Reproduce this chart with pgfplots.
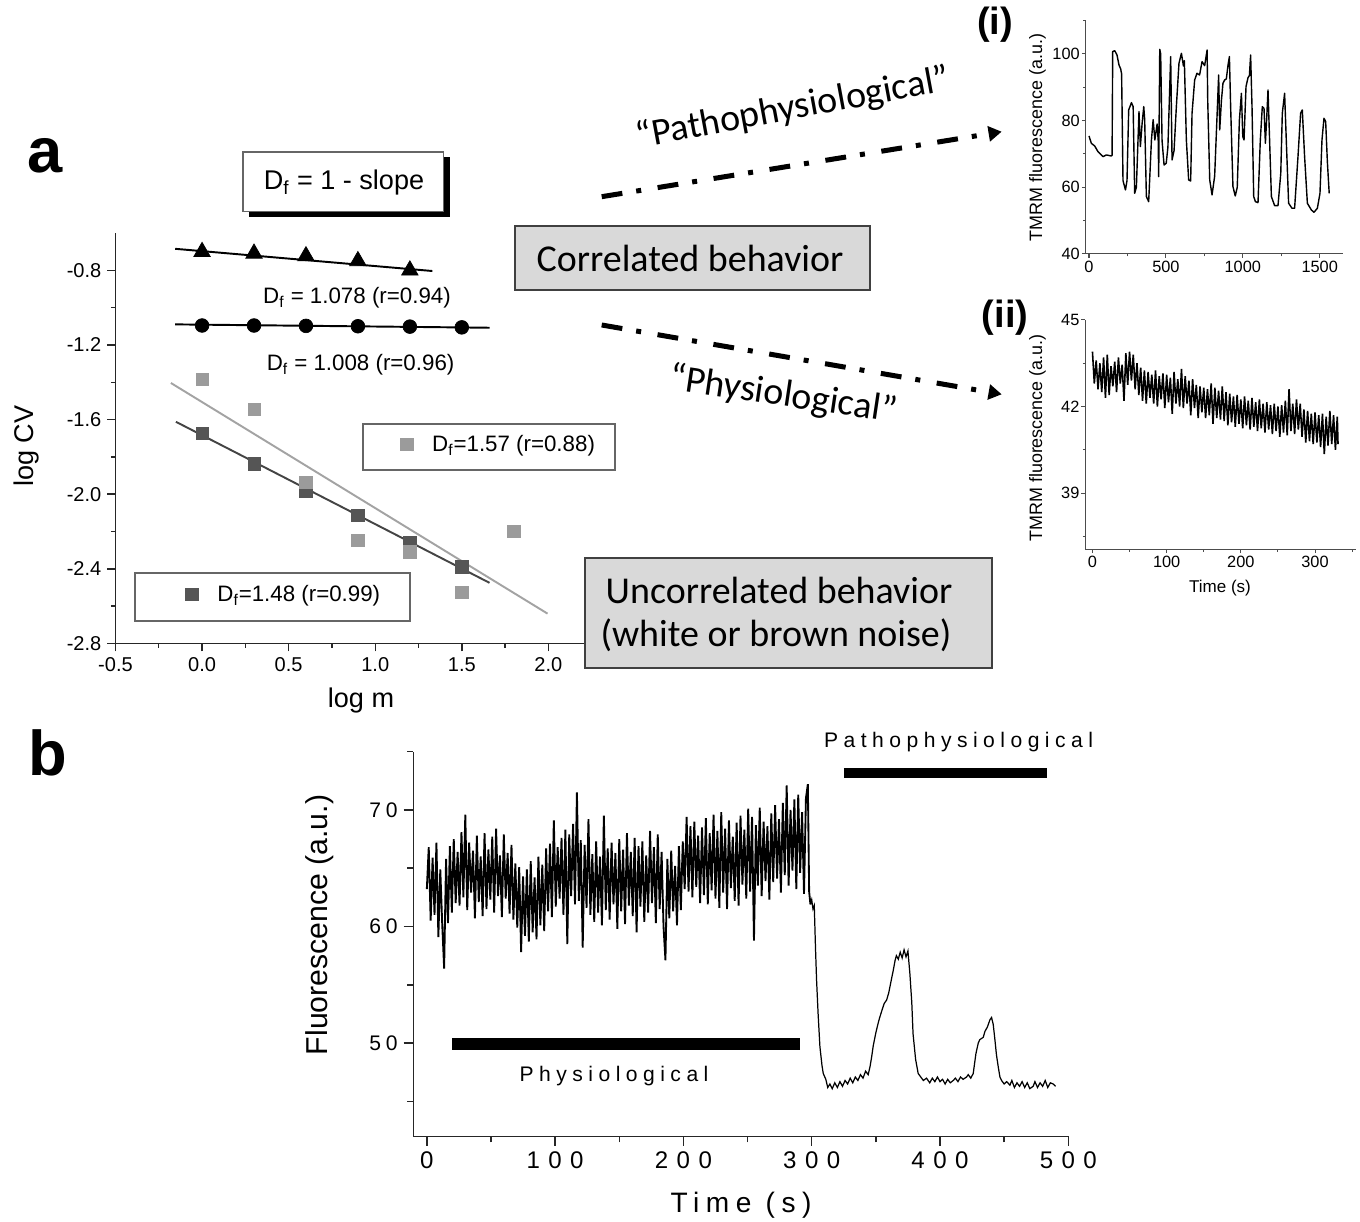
\documentclass[border=0pt]{standalone}
\usepackage{pgfplots}
\pgfplotsset{compat=1.18}
\usepackage{fontspec}
\setmainfont{Liberation Sans}
\newfontfamily\carl{Carlito}
\newfontfamily\spLab{Liberation Sans}[LetterSpace=26]
\newfontfamily\spX{Liberation Sans}[LetterSpace=35]
\newfontfamily\spY{Liberation Sans}[LetterSpace=22]
\newfontfamily\spT{Liberation Sans}[LetterSpace=23]
\usetikzlibrary{arrows.meta}
\definecolor{sqdark}{HTML}{555555}
\definecolor{sqlight}{HTML}{9B9B9B}
\definecolor{lndark}{HTML}{444444}
\definecolor{lnlight}{HTML}{A3A3A3}
\definecolor{boxgray}{HTML}{D9D9D9}
\newcommand{\fs}[1]{\fontsize{#1}{#1}\selectfont}

\pgfplotsset{
  orig/.style={scale only axis, anchor=south west,
    axis x line*=bottom, axis y line*=left,
    axis line style={-, line width=0.8pt, black!85},
    tick align=outside, tick style={line width=0.8pt, black!85},
    /pgf/number format/assume math mode=true,
    /pgf/number format/1000 sep={},
    clip=false},
}

\begin{document}
\begin{tikzpicture}

% ---------- panel a: log CV vs log m ----------
\begin{axis}[orig, at={(2.31cm,-12.872cm)}, width=9.526cm, height=8.212cm,
  xmin=-0.5, xmax=2.25, ymin=-2.8, ymax=-0.6,
  xtick={-0.5,0,0.5,1,1.5,2}, ytick={-2.8,-2.4,-2,-1.6,-1.2,-0.8},
  minor xtick={-0.25,0.25,0.75,1.25,1.75}, minor ytick={-2.6,-2.2,-1.8,-1.4,-1.0},
  major tick length=0.16cm, minor tick length=0.09cm,
  ticklabel style={font=\fs{11.4pt}},
  xticklabel style={/pgf/number format/.cd, fixed, fixed zerofill, precision=1},
  yticklabel style={/pgf/number format/.cd, fixed, fixed zerofill, precision=1},
  legend style={at={(axis description cs:0.147,0.1193)}, anchor=west,
    draw=none, fill=none, font=\fs{12.7pt}, inner sep=0pt, column sep=9pt},
]
\addplot[only marks, mark=square*, mark size=3.5pt, color=sqdark]
  coordinates {(0,-1.675)(0.3,-1.837)(0.6,-1.984)(0.9,-2.114)(1.2,-2.261)(1.5,-2.389)};
\addlegendentry{D\textsubscript{f}=1.48 (r=0.99)}
\addplot[only marks, mark=square*, mark size=3.5pt, color=sqlight, forget plot]
  coordinates {(0,-1.385)(0.3,-1.545)(0.6,-1.937)(0.9,-2.248)(1.2,-2.309)(1.5,-2.525)(1.8,-2.198)};
\addplot[only marks, mark=*, mark size=3.9pt, black, forget plot]
  coordinates {(0,-1.096)(0.3,-1.096)(0.6,-1.098)(0.9,-1.100)(1.2,-1.102)(1.5,-1.106)};
\addplot[only marks, mark=triangle*, mark size=5.4pt, black, forget plot]
  coordinates {(0,-0.701)(0.3,-0.710)(0.6,-0.724)(0.9,-0.750)(1.2,-0.800)};
\addplot[lndark, line width=1.1pt, forget plot] coordinates {(-0.151,-1.612)(1.66,-2.475)};
\addplot[lnlight, line width=1.1pt, forget plot] coordinates {(-0.18,-1.404)(1.995,-2.640)};
\addplot[black, line width=1.1pt, forget plot] coordinates {(-0.155,-1.090)(1.66,-1.108)};
\addplot[black, line width=1.1pt, forget plot] coordinates {(-0.155,-0.685)(1.33,-0.804)};
\end{axis}

% second legend of panel a
\begin{axis}[scale only axis, anchor=south west, at={(2.31cm,-12.872cm)}, width=9.526cm, height=8.212cm,
  hide axis, xmin=0, xmax=1, ymin=0, ymax=1,
  legend style={at={(axis description cs:0.598,0.4847)}, anchor=west,
    draw=none, fill=none, font=\fs{12.7pt}, inner sep=0pt, column sep=9pt}]
\addlegendimage{only marks, mark=square*, mark size=3.5pt, color=sqlight}
\addlegendentry{D\textsubscript{f}=1.57 (r=0.88)}
\end{axis}

% ---------- inset (i) ----------
\begin{axis}[orig, at={(21.72cm,-5.08cm)}, width=5.14cm, height=4.667cm,
  xmin=-21, xmax=1650, ymin=40, ymax=110,
  xtick={0,500,1000,1500}, minor xtick={250,750,1250},
  ytick={40,60,80,100}, minor ytick={50,70,90,110},
  major tick length=0.08cm, minor tick length=0.05cm,
  axis line style={line width=0.6pt, black!70}, tick style={line width=0.6pt, black!70},
  ticklabel style={font=\fs{9.3pt}},
  xticklabel style={inner ysep=1.5pt}, yticklabel style={inner xsep=1pt},
]
\addplot[black, line width=0.8pt, line join=round] coordinates {
(0,75.4)(15,73.2)(37,72.4)(58,70.7)(91,69.2)(113,69.7)(145,69.4)(150,69.6)(154,100.7)(167,101)
(182,99.7)(195,96.7)(206,95.5)(212,94)(221,62)(237,59.2)(247,62)(258,83.2)(276,85.4)(287,84.2)
(297,58.2)(308,60)(325,82.7)(334,72.2)(345,79)(356,84.2)(362,80.3)(373,57.2)(388,55.7)(406,74.2)
(417,80.3)(428,74.2)(443,79)(450,74)(453,63.2)(460,101.4)(466,100)(475,74)(488,66.7)(502,67.2)
(513,72)(531,99.2)(540,68.2)(553,71)(568,84.2)(585,97.2)(601,100.2)(614,96.4)(620,98)(633,74.2)
(648,62.2)(661,61.9)(670,82.2)(687,92.2)(702,94.2)(719,93.7)(735,97.7)(752,96.5)(768,101.2)(772,86)
(785,62.2)(800,57.7)(817,63.3)(835,84.2)(843,93.7)(850,77.2)(861,86)(871,91.2)(882,92.2)(893,92.5)
(904,96.7)(913,99.2)(921,84.2)(936,60.2)(951,57.4)(964,60)(978,80.2)(991,88.2)(1000,75.2)(1008,74.2)
(1021,90.2)(1034,92.9)(1043,93.5)(1051,99.7)(1060,84.2)(1071,57.2)(1082,55.7)(1099,55.4)(1114,74.2)(1127,84.2)
(1138,83.7)(1147,73.2)(1156,81.2)(1164,89.2)(1175,73.2)(1186,57.2)(1207,54.5)(1229,54.5)(1247,64.2)(1257,82.2)
(1272,88.2)(1283,74)(1298,55.2)(1320,53.7)(1337,53.7)(1359,69.2)(1376,82.2)(1387,83.2)(1402,69.2)(1420,55.2)
(1446,53.2)(1463,52.5)(1485,53.7)(1502,58.2)(1515,74.2)(1528,80.7)(1539,79.7)(1550,67.7)(1562,58.2)};
\end{axis}

% ---------- inset (ii) ----------
\begin{axis}[orig, at={(21.714cm,-10.986cm)}, width=5.408cm, height=4.586cm,
  xmin=-9.4, xmax=355, ymin=37.06, ymax=45,
  xtick={0,100,200,300}, minor xtick={50,150,250,350},
  ytick={39,42,45}, minor ytick={37.5,40.5,43.5},
  major tick length=0.08cm, minor tick length=0.05cm,
  axis line style={line width=0.6pt, black!70}, tick style={line width=0.6pt, black!70},
  ticklabel style={font=\fs{9.3pt}},
  xticklabel style={inner ysep=1.5pt}, yticklabel style={inner xsep=1pt},
]
\addplot[black, line width=0.9pt] coordinates {
(0,43.9)(2.5,42.8)(5,43.6)(7.5,42.6)(10,43.5)(12.5,42.5)(15,43.7)(17.5,42.3)(20,43.8)(22.5,42.4)
(25,43.4)(27.5,42.7)(30,43.55)(32.5,42.5)(35,43.7)(37.5,42.8)(40,43.45)(42.5,42.2)(45,43.85)(47.5,42.75)
(50,43.9)(52.5,42.9)(55,43.8)(57.5,42.6)(60,43.5)(62.5,42.4)(65,43.35)(67.5,42.2)(70,43.25)(72.5,42.1)
(75,43.2)(77.5,42.3)(80,43.1)(82.5,42.1)(85,43.25)(87.5,42.0)(90,43.05)(92.5,42.25)(95,43.15)(97.5,41.95)
(100,43.1)(102.5,42.15)(105,43.0)(107.5,41.75)(110,43.2)(112.5,42.1)(115,42.95)(117.5,42.0)(120,43.3)(122.5,41.95)
(125,43.05)(127.5,42.1)(130,42.9)(132.5,41.7)(135,42.95)(137.5,41.95)(140,42.75)(142.5,41.6)(145,42.7)(147.5,41.8)
(150,42.65)(152.5,41.6)(155,42.6)(157.5,41.7)(160,42.8)(162.5,41.4)(165,42.65)(167.5,41.6)(170,42.55)(172.5,41.55)
(175,42.7)(177.5,41.5)(180,42.5)(182.5,41.35)(185,42.45)(187.5,41.45)(190,42.35)(192.5,41.3)(195,42.4)(197.5,41.4)
(200,42.25)(202.5,41.25)(205,42.35)(207.5,41.35)(210,42.2)(212.5,41.2)(215,42.3)(217.5,41.3)(220,42.15)(222.5,41.15)
(225,42.25)(227.5,41.25)(230,42.1)(232.5,41.1)(235,42.15)(237.5,41.2)(240,42.05)(242.5,41.05)(245,42.1)(247.5,41.15)
(250,42.0)(252.5,40.95)(255,42.05)(257.5,41.1)(260,42.2)(262.5,41.0)(265,42.6)(267.5,41.15)(270,42.1)(272.5,41.05)
(275,42.25)(277.5,41.2)(280,42.1)(282.5,40.95)(285,41.9)(287.5,40.75)(290,41.85)(292.5,40.8)(295,41.75)(297.5,40.7)
(300,41.8)(302.5,40.75)(305,41.7)(307.5,40.6)(310,41.75)(312.5,40.35)(315,41.65)(317.5,40.65)(320,41.85)(322.5,40.7)
(325,41.7)(327.5,40.5)(330,41.65)(331,40.7)};
\end{axis}

% ---------- panel b ----------
\begin{axis}[orig, at={(8.266cm,-22.734cm)}, width=13.104cm, height=7.7cm,
  xmin=-10.6, xmax=500, ymin=42, ymax=75,
  xtick={0,100,200,300,400,500}, minor xtick={50,150,250,350,450},
  ytick={50,60,70}, minor ytick={45,55,65,75},
  major tick length=0.19cm, minor tick length=0.12cm,
  xticklabel style={font=\spX\fs{13.7pt}}, yticklabel style={font=\spY\fs{12pt}},
]
% noisy physiological stretch
\addplot[black, line width=1.05pt] coordinates {
(0,63.2)(1.5,66.8)(3,60.5)(4.5,65.9)(6,61.0)(7.5,67.2)(9,59.1)(10.5,64.9)(12,60.2)(13.5,56.4)
(15,65.8)(16.5,60.3)(18,66.9)(19.5,61.2)(21,67.5)(22.5,62.0)(24,66.4)(25.5,61.8)(27,68.1)(28.5,62.5)
(30,69.6)(31.5,61.4)(33,67.2)(34.5,62.9)(36,66.5)(37.5,60.7)(39,67.8)(40.5,62.1)(42,66.0)(43.5,60.9)
(45,68.0)(46.5,61.5)(48,66.6)(49.5,62.3)(51,67.7)(52.5,61.2)(54,68.4)(55.5,62.6)(57,66.1)(58.5,60.8)
(60,67.9)(61.5,62.4)(63,66.3)(64.5,61.1)(66,67.0)(67.5,60.6)(69,65.4)(70.5,59.9)(72,65.1)(73.5,57.8)
(75,64.3)(76.5,59.2)(78,64.9)(79.5,58.7)(81,65.6)(82.5,59.5)(84,64.2)(85.5,58.9)(87,66.0)(88.5,60.1)
(90,65.3)(91.5,59.6)(93,66.7)(94.5,61.3)(96,67.1)(97.5,60.8)(99,69.1)(100.5,61.7)(102,66.8)(103.5,62.4)
(105,67.6)(106.5,61.0)(108,68.3)(109.5,58.5)(111,67.9)(112.5,62.6)(114,68.8)(115.5,61.9)(117,71.5)(118.5,62.2)
(120,67.4)(121.5,58.2)(123,67.0)(124.5,61.6)(126,69.2)(127.5,61.0)(129,66.2)(130.5,60.4)(132,67.3)(133.5,61.2)
(135,66.0)(136.5,60.1)(138,69.5)(139.5,61.4)(141,66.7)(142.5,60.6)(144,67.2)(145.5,61.9)(147,66.3)(148.5,59.8)
(150,67.5)(151.5,61.3)(153,66.6)(154.5,60.2)(156,68.0)(157.5,61.8)(159,66.4)(160.5,60.9)(162,67.6)(163.5,59.5)
(165,66.9)(166.5,61.7)(168,67.3)(169.5,60.4)(171,66.1)(172.5,61.2)(174,68.2)(175.5,62.0)(177,66.8)(178.5,60.3)
(180,67.9)(181.5,61.5)(183,66.4)(184.5,60.0)(186,57.1)(187.5,65.8)(189,60.7)(190.5,66.5)(192,61.3)(193.5,65.2)
(195,60.1)(196.5,66.9)(198,61.4)(199.5,67.3)(201,63.2)(202.5,69.4)(204,63.0)(205.5,68.6)(207,62.5)(208.5,69.0)
(210,63.4)(211.5,67.8)(213,62.0)(214.5,68.5)(216,62.7)(217.5,69.3)(219,61.9)(220.5,68.0)(222,63.1)(223.5,69.6)
(225,62.4)(226.5,68.2)(228,61.6)(229.5,69.8)(231,62.9)(232.5,68.4)(234,61.5)(235.5,69.1)(237,63.3)(238.5,67.7)
(240,62.2)(241.5,68.9)(243,61.8)(244.5,69.5)(246,63.6)(247.5,68.3)(249,62.4)(250.5,70.1)(252,63.0)(253.5,69.4)
(255,58.8)(256.5,68.7)(258,63.5)(259.5,70.2)(261,62.6)(262.5,69.0)(264,63.9)(265.5,68.6)(267,62.3)(268.5,69.7)
(270,63.8)(271.5,70.4)(273,64.1)(274.5,69.2)(276,62.9)(277.5,70.6)(279,64.4)(280.5,72.1)(282,63.5)(283.5,70.0)
(285,64.8)(286.5,70.9)(288,63.2)(289.5,71.3)(291,64.6)(292.5,69.8)(294,62.8)(295.5,71.0)(297,72.2)(298,63.0)
(299,61.9)};
% transition and pathophysiological oscillations
\addplot[black, line width=0.7pt] coordinates {
(299,61.9)(300,62.3)(301,61.5)(302,61.8)(303,58.0)(303.8,55.4)(305,52.5)(306.4,49.7)(308,48.1)(309,47.4)
(311,46.9)(312.5,46.2)(314.2,46.5)(316,46.1)(318,46.6)(320,46.2)(322,46.7)(324,46.3)(326,46.8)(328,46.5)
(330,47.0)(332,46.6)(334,47.1)(336,46.8)(338,47.3)(340,47.0)(342,47.6)(344,47.3)(345.5,48.0)(346.7,48.8)
(348,49.8)(350,50.9)(352,51.8)(353,52.2)(355,52.9)(356.5,53.4)(358.4,53.7)(360,54.3)(362,55.4)(363.5,56.2)
(365,57.1)(366,57.5)(367.5,57.2)(369,57.8)(370.5,57.3)(372,58.0)(373.5,57.4)(375,57.9)(376.5,56.0)(378,53.5)
(379,50.8)(381,48.6)(383,47.4)(385,47.1)(387,46.8)(389.5,47.0)(392,46.6)(394,47.0)(396,46.7)(398,47.1)
(400,46.7)(402,46.9)(404,46.5)(406,46.9)(408,46.6)(410.3,46.8)(412,47.0)(414,46.7)(416,47.1)(418,46.9)
(420.7,47.1)(422,47.3)(424,47.0)(425.9,47.4)(427,48.3)(428,49.1)(429.8,50.0)(431,50.3)(433.7,50.5)(435,51.0)
(437,51.4)(438.9,52.0)(440.2,52.2)(441.5,51.6)(442.8,50.3)(444,49.0)(445.5,47.9)(446.7,47.1)(448,46.8)(450,46.5)
(452,46.7)(454.5,46.4)(456,46.8)(458,46.2)(460,46.6)(462,46.3)(464,46.7)(466,46.2)(468,46.6)(470,46.1)
(472.6,46.3)(474,46.7)(476,46.2)(478,46.6)(480,46.3)(482,46.8)(484,46.2)(486,46.6)(488.2,46.5)(490,46.3)};
% condition bars
\addplot[black, line width=7.2pt] coordinates {(20,49.93)(291,49.93)};
\addplot[black, line width=5.5pt] coordinates {(325,73.15)(483.6,73.15)};
\end{axis}

% ---------- annotations (pixel grid of the reference) ----------
\begin{scope}[x=0.02cm, y=-0.02cm]
\path[use as bounding box] (0,0) rectangle (1360,1222);
\node[font=\bfseries\fs{36pt}] at (45,155.5) {a};
\node[font=\bfseries\fs{36pt}] at (47.5,752.5) {b};
\node[font=\bfseries\fs{21.6pt}] at (995,25) {(i)};
\node[font=\bfseries\fs{21.6pt}] at (1005,318) {(ii)};

\fill[black] (249,157) rectangle (450,217);
\draw[black!60, line width=0.8pt, fill=white] (243,152) rectangle (443.6,211.4);
\node[font=\fs{15.4pt}, anchor=base] at (344,189.3) {D\textsubscript{f} = 1 - slope};
\node[font=\fs{12.7pt}, anchor=base] at (357,303.6) {D\textsubscript{f} = 1.078 (r=0.94)};
\node[font=\fs{12.7pt}, anchor=base] at (360.6,370.7) {D\textsubscript{f} = 1.008 (r=0.96)};
\draw[black!60, line width=0.8pt] (363,424) rectangle (615,470);
\draw[black!60, line width=0.8pt] (135,573) rectangle (410,621);
\node[font=\fs{15.4pt}, rotate=90] at (26.7,446) {log CV};
\node[font=\fs{15.4pt}] at (361,701) {log m};

\draw[fill=boxgray, draw=black!75, line width=1pt] (515.3,225.7) rectangle (870,290);
\node[font=\carl\fs{21.6pt}] at (690,258) {Correlated behavior};
\draw[fill=boxgray, draw=black!75, line width=1pt] (585,558) rectangle (992,668);
\node[font=\carl\fs{21.6pt}, anchor=base] at (779,604) {Uncorrelated behavior};
\node[font=\carl\fs{21.6pt}, anchor=base] at (776,647) {(white or brown noise)};

\draw[line width=2.85pt, dash pattern=on 11.9pt off 8pt on 2.85pt off 9.5pt,
  -{Triangle[length=7.5pt,width=8.5pt]}] (601.7,196.7) -- (1001.7,131.7);
\draw[line width=2.85pt, dash pattern=on 11.9pt off 8pt on 2.85pt off 9.5pt,
  -{Triangle[length=7.5pt,width=8.5pt]}] (601.7,325) -- (1001.7,394.3);
\node[font=\carl\fs{21.6pt}, rotate=10.5, anchor=base] at (795,119) {“Pathophysiological”};
\node[font=\carl\fs{21.6pt}, rotate=-8.5, anchor=base] at (781.7,405.7) {“Physiological”};

\node[font=\fs{10.2pt}, rotate=90] at (1037.5,137.5) {TMRM fluorescence (a.u.)};
\node[font=\fs{10.2pt}, rotate=90] at (1037.5,438) {TMRM fluorescence (a.u.)};
\node[font=\fs{9.7pt}] at (1220,588) {Time (s)};

\node[font=\fs{17.2pt}, rotate=90] at (320,925) {Fluorescence (a.u.)};
\node[font=\spT\fs{16pt}] at (741,1205) {Time (s)};
\node[font=\spLab\fs{12pt}] at (958.6,742) {Pathophysiological};
\node[font=\spLab\fs{12pt}] at (614,1076) {Physiological};
\end{scope}

\end{tikzpicture}
\end{document}
